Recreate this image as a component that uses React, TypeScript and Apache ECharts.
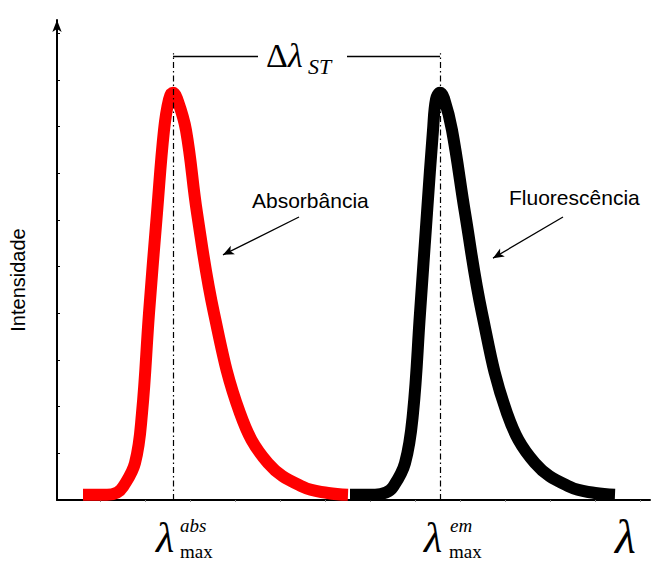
import React, { useEffect, useRef } from "react";
import * as echarts from "echarts";

// Absorption band (arbitrary λ units, relative intensity)
const absX = [26, 50, 60, 66, 78, 85, 92, 100, 107, 112, 116, 120, 129, 140, 157, 183, 211, 246, 271, 291];
const absY = [1.1, 1.1, 1.6, 2.8, 7.9, 18.6, 40, 61.5, 79.2, 85.8, 87.2, 86, 79.2, 61.5, 40, 18.6, 7.9, 2.8, 1.5, 1.1];
// Emission (fluorescence) band
const emX = [293, 318, 329, 336, 348, 356, 363, 370, 376, 379, 383, 387, 395, 408, 425, 450, 478, 513, 538, 558];
const emY = [1.1, 1.1, 1.6, 2.8, 7.9, 18.6, 40, 61.5, 79.2, 85.8, 87.2, 86, 79.2, 61.5, 40, 18.6, 7.9, 2.8, 1.5, 1.1];

const yTicks = [0, 10, 20, 30, 40, 50, 60, 70, 80, 90, 100];
const xTicks = [43, 88, 133, 178, 223, 268, 313, 358, 403, 448, 493, 538, 583];

const lambdaAbs = 116;
const lambdaEm = 383;
const bracketY = 95.1;
const guideTop = 95.7;
const bracketGap = [201, 290];
const absArrow = [[242, 60.6], [166, 52.5]];
const emArrow = [[506, 60.6], [436, 51.8]];

const SERIF = "'Liberation Serif', 'Times New Roman', serif";
const SANS = "'Liberation Sans', Arial, sans-serif";

export default function App() {
  const ref = useRef<HTMLDivElement>(null);
  useEffect(() => {
    if (!ref.current) return;
    const chart = echarts.init(ref.current, null, { renderer: "svg" });
    const dashDot = { color: "#000", width: 1.2, type: [6, 3, 1.5, 3] };
    const solid = { color: "#000", width: 1.3, type: "solid" };
    const arrowStyle = { color: "#000", width: 1.3, type: "solid" };
    chart.setOption({
      animation: false,
      grid: { left: 57, right: 3, top: 20, bottom: 61 },
      xAxis: {
        type: "value",
        min: 0,
        max: 593,
        axisLine: { show: true, lineStyle: { color: "#000", width: 2 } },
        axisTick: { show: true, length: 2, customValues: xTicks, lineStyle: { color: "#888", width: 1 } },
        axisLabel: { show: false },
        splitLine: { show: false },
      },
      yAxis: {
        type: "value",
        min: 0,
        max: 102.8,
        axisLine: {
          show: true,
          symbol: ["none", "arrow"],
          symbolSize: [7, 12],
          lineStyle: { color: "#000", width: 2 },
        },
        axisTick: { show: true, inside: true, length: 3, customValues: yTicks, lineStyle: { color: "#000", width: 1 } },
        axisLabel: { show: false },
        splitLine: { show: false },
      },
      series: [
        {
          type: "line",
          data: absX.map((x, i) => [x, absY[i]]),
          smooth: 0.4,
          showSymbol: false,
          lineStyle: { color: "#ff0000", width: 12, cap: "butt", join: "round" },
          markLine: {
            silent: true,
            symbol: ["none", "none"],
            label: { show: false },
            data: [
              [
                { coord: [lambdaAbs, 0], lineStyle: dashDot },
                { coord: [lambdaAbs, guideTop], lineStyle: dashDot },
              ],
              [
                { coord: [lambdaAbs, bracketY], lineStyle: solid },
                { coord: [bracketGap[0], bracketY], lineStyle: solid },
              ],
              [
                { coord: [bracketGap[1], bracketY], lineStyle: solid },
                { coord: [lambdaEm, bracketY], lineStyle: solid },
              ],
              [
                { coord: absArrow[0], lineStyle: arrowStyle, symbol: "none" },
                { coord: absArrow[1], lineStyle: arrowStyle, symbol: "arrow", symbolSize: [7, 11] },
              ],
              [
                { coord: emArrow[0], lineStyle: arrowStyle, symbol: "none" },
                { coord: emArrow[1], lineStyle: arrowStyle, symbol: "arrow", symbolSize: [7, 11] },
              ],
            ],
          },
        },
        {
          type: "line",
          data: emX.map((x, i) => [x, emY[i]]),
          smooth: 0.4,
          showSymbol: false,
          lineStyle: { color: "#000", width: 12, cap: "butt", join: "round" },
          markLine: {
            silent: true,
            symbol: ["none", "none"],
            label: { show: false },
            data: [
              [
                { coord: [lambdaEm, 0], lineStyle: dashDot },
                { coord: [lambdaEm, guideTop], lineStyle: dashDot },
              ],
            ],
          },
        },
      ],
      graphic: [
        {
          type: "text",
          x: 18,
          y: 280,
          rotation: Math.PI / 2,
          style: { text: "Intensidade", font: `20px ${SANS}`, fill: "#000", align: "center", verticalAlign: "middle" },
        },
        {
          type: "text",
          x: 252,
          y: 200,
          style: { text: "Absorbância", font: `21px ${SANS}`, fill: "#000", align: "left", verticalAlign: "middle" },
        },
        {
          type: "text",
          x: 509,
          y: 197,
          style: { text: "Fluorescência", font: `21px ${SANS}`, fill: "#000", align: "left", verticalAlign: "middle" },
        },
        {
          type: "text",
          x: 266,
          y: 55,
          style: { text: "Δ", font: `34px ${SERIF}`, fill: "#000", align: "left", verticalAlign: "middle" },
        },
        {
          type: "text",
          x: 288,
          y: 55,
          style: { text: "λ", font: `italic 34px ${SERIF}`, fill: "#000", align: "left", verticalAlign: "middle" },
        },
        {
          type: "text",
          x: 308,
          y: 66,
          style: { text: "ST", font: `italic 22px ${SERIF}`, fill: "#000", align: "left", verticalAlign: "middle" },
        },
        // λ max abs
        {
          type: "text",
          x: 156,
          y: 538,
          style: { text: "λ", font: `italic 42px ${SERIF}`, fill: "#000", align: "left", verticalAlign: "middle" },
        },
        {
          type: "text",
          x: 180,
          y: 525,
          style: { text: "abs", font: `italic 19px ${SERIF}`, fill: "#000", align: "left", verticalAlign: "middle" },
        },
        {
          type: "text",
          x: 180,
          y: 551,
          style: { text: "max", font: `19px ${SERIF}`, fill: "#000", align: "left", verticalAlign: "middle" },
        },
        // λ max em
        {
          type: "text",
          x: 424,
          y: 538,
          style: { text: "λ", font: `italic 42px ${SERIF}`, fill: "#000", align: "left", verticalAlign: "middle" },
        },
        {
          type: "text",
          x: 450,
          y: 525,
          style: { text: "em", font: `italic 19px ${SERIF}`, fill: "#000", align: "left", verticalAlign: "middle" },
        },
        {
          type: "text",
          x: 449,
          y: 551,
          style: { text: "max", font: `19px ${SERIF}`, fill: "#000", align: "left", verticalAlign: "middle" },
        },
        // axis λ
        {
          type: "text",
          x: 615,
          y: 536,
          style: { text: "λ", font: `italic 48px ${SERIF}`, fill: "#000", align: "left", verticalAlign: "middle" },
        },
      ],
    });
    return () => chart.dispose();
  }, []);
  return <div ref={ref} style={{ width: 653, height: 561, position: "absolute", left: 0, top: 0 }} />;
}
